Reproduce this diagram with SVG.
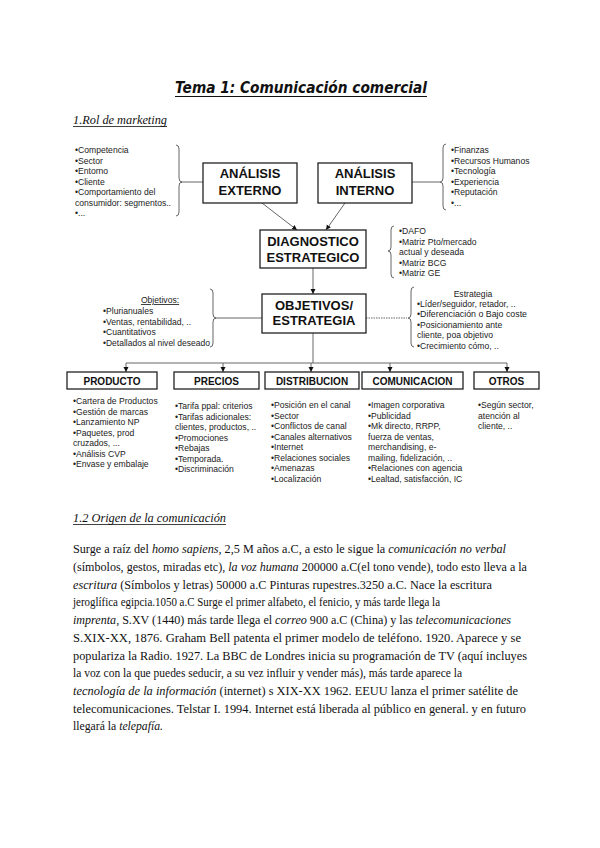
<svg xmlns="http://www.w3.org/2000/svg" width="600" height="848" viewBox="0 0 600 848">
<defs>
<marker id="arr" markerWidth="6" markerHeight="6" refX="5" refY="3" orient="auto" markerUnits="userSpaceOnUse">
<path d="M0,0.5 L5,3 L0,5.5 z" fill="#111"/>
</marker>
<style>
.box{fill:#fff;stroke:#222;stroke-width:1.3}
.bt{font-family:"Liberation Sans",Arial,sans-serif;font-weight:bold;font-size:13px;fill:#111;text-anchor:middle}
.bs{font-family:"Liberation Sans",Arial,sans-serif;font-weight:bold;font-size:10px;fill:#111;text-anchor:middle}
.li{font-family:"Liberation Sans",Arial,sans-serif;font-size:8.6px;fill:#222}
.con{stroke:#666;stroke-width:1;fill:none}
.br{stroke:#555;stroke-width:0.9;fill:none}
.p{font-family:"Liberation Serif","Times New Roman",serif;font-size:12px;fill:#111}
.it{font-style:italic}
</style>
</defs>
<rect width="600" height="848" fill="#fff"/>

<g id="title">
<text x="301" y="93" text-anchor="middle" font-family="'DejaVu Sans',sans-serif" font-weight="bold" font-style="italic" font-size="16" fill="#111" textLength="252" lengthAdjust="spacingAndGlyphs">Tema 1: Comunicación comercial</text>
<line x1="175" y1="96.5" x2="427" y2="96.5" stroke="#111" stroke-width="1"/>
</g>
<g id="h1">
<text x="73" y="124" class="p it" font-size="12" textLength="94" lengthAdjust="spacingAndGlyphs">1.Rol de marketing</text>
<line x1="73" y1="126.5" x2="167" y2="126.5" stroke="#111" stroke-width="0.8"/>
</g>

<g id="connectors">
<path class="con" d="M181,182 H203"/>
<path class="con" d="M412,182 H440"/>
<line class="con" x1="262" y1="203" x2="297" y2="230" marker-end="url(#arr)"/>
<line class="con" x1="345" y1="203" x2="326" y2="230" marker-end="url(#arr)"/>
<line class="con" x1="313" y1="268" x2="313" y2="294" marker-end="url(#arr)"/>
<path class="con" d="M215,318 H262"/>
<path class="con" d="M366,318 H407" stroke-dasharray="1.5,1" stroke="#999"/>
<line class="con" x1="313" y1="333" x2="313" y2="363"/>
<line class="con" x1="126" y1="363" x2="507" y2="363"/>
<line class="con" x1="126" y1="363" x2="126" y2="372" marker-end="url(#arr)"/>
<line class="con" x1="223" y1="363" x2="223" y2="372" marker-end="url(#arr)"/>
<line class="con" x1="311" y1="363" x2="311" y2="372" marker-end="url(#arr)"/>
<line class="con" x1="390" y1="363" x2="390" y2="372" marker-end="url(#arr)"/>
<line class="con" x1="507" y1="363" x2="507" y2="372" marker-end="url(#arr)"/>
</g>

<g id="braces">
<path class="br" d="M176,145 q3,0 3,4 v29 q0,4 3,4 q-3,0 -3,4 v26 q0,4 -3,4"/>
<path class="br" d="M446,144 q-3,0 -3,4 v30 q0,4 -3,4 q3,0 3,4 v20 q0,4 3,4"/>
<path class="br" d="M394,226 q-3,0 -3,4 v17 q0,4 -3,4 q3,0 3,4 v19 q0,4 3,4"/>
<path class="br" d="M210,289 q3,0 3,4 v21 q0,4 3,4 q-3,0 -3,4 v21 q0,4 -3,4"/>
<path class="br" d="M414,287 q-3,0 -3,4 v23 q0,4 -3,4 q3,0 3,4 v21 q0,4 3,4"/>
</g>

<g id="ext-list">
<text class="li" x="75" y="153">•Competencia</text>
<text class="li" x="75" y="163.5">•Sector</text>
<text class="li" x="75" y="174">•Entorno</text>
<text class="li" x="75" y="184.5">•Cliente</text>
<text class="li" x="75" y="195">•Comportamiento del</text>
<text class="li" x="75" y="205.5">consumidor: segmentos..</text>
<text class="li" x="75" y="216">•...</text>
</g>

<g id="analisis-externo">
<rect class="box" x="203" y="163" width="94" height="40"/>
<text class="bt" x="250" y="178">ANÁLISIS</text>
<text class="bt" x="250" y="195">EXTERNO</text>
</g>
<g id="analisis-interno">
<rect class="box" x="318" y="163" width="94" height="40"/>
<text class="bt" x="365" y="178">ANÁLISIS</text>
<text class="bt" x="365" y="195">INTERNO</text>
</g>

<g id="int-list">
<text class="li" x="451" y="153">•Finanzas</text>
<text class="li" x="451" y="163.5">•Recursos Humanos</text>
<text class="li" x="451" y="174">•Tecnología</text>
<text class="li" x="451" y="184.5">•Experiencia</text>
<text class="li" x="451" y="195">•Reputación</text>
<text class="li" x="451" y="205.5">•...</text>
</g>

<g id="diagnostico">
<rect class="box" x="260" y="230" width="106" height="38"/>
<text class="bt" x="313" y="246">DIAGNOSTICO</text>
<text class="bt" x="313" y="262">ESTRATEGICO</text>
</g>
<g id="diag-list">
<text class="li" x="399" y="234">•DAFO</text>
<text class="li" x="399" y="244.5">•Matriz Pto/mercado</text>
<text class="li" x="399" y="255">actual y deseada</text>
<text class="li" x="399" y="265.5">•Matriz BCG</text>
<text class="li" x="399" y="276">•Matriz GE</text>
</g>

<g id="objetivos">
<rect class="box" x="262" y="294" width="104" height="39"/>
<text class="bt" x="314" y="310">OBJETIVOS/</text>
<text class="bt" x="314" y="325">ESTRATEGIA</text>
</g>
<g id="obj-list">
<text class="li" x="160" y="303" text-anchor="middle" text-decoration="underline">Objetivos:</text>
<text class="li" x="103" y="314">•Plurianuales</text>
<text class="li" x="103" y="324.5">•Ventas, rentabilidad, ..</text>
<text class="li" x="103" y="335">•Cuantitativos</text>
<text class="li" x="103" y="345.5" textLength="107" lengthAdjust="spacingAndGlyphs">•Detallados al nivel deseado</text>
</g>
<g id="est-list">
<text class="li" x="473" y="297" text-anchor="middle">Estrategia</text>
<text class="li" x="417" y="306.5">•Líder/seguidor, retador, ..</text>
<text class="li" x="417" y="317" textLength="110" lengthAdjust="spacingAndGlyphs">•Diferenciación o Bajo coste</text>
<text class="li" x="417" y="327.5">•Posicionamiento ante</text>
<text class="li" x="417" y="338">cliente, poa objetivo</text>
<text class="li" x="417" y="348.5">•Crecimiento cómo, ..</text>
</g>

<g id="producto">
<rect class="box" x="67" y="372" width="90" height="17"/>
<text class="bs" x="112" y="384.5">PRODUCTO</text>
</g>
<g id="precios">
<rect class="box" x="174" y="372" width="85" height="17"/>
<text class="bs" x="216.5" y="384.5">PRECIOS</text>
</g>
<g id="distribucion">
<rect class="box" x="265" y="372" width="94" height="17"/>
<text class="bs" x="312" y="384.5">DISTRIBUCION</text>
</g>
<g id="comunicacion">
<rect class="box" x="362" y="372" width="101" height="17"/>
<text class="bs" x="412.5" y="384.5">COMUNICACION</text>
</g>
<g id="otros">
<rect class="box" x="474" y="372" width="65" height="17"/>
<text class="bs" x="506.5" y="384.5">OTROS</text>
</g>

<g id="producto-list">
<text class="li" x="73" y="404">•Cartera de Productos</text>
<text class="li" x="73" y="414.5">•Gestión de marcas</text>
<text class="li" x="73" y="425">•Lanzamiento NP</text>
<text class="li" x="73" y="435.5">•Paquetes, prod</text>
<text class="li" x="73" y="446">cruzados, ...</text>
<text class="li" x="73" y="456.5">•Análisis CVP</text>
<text class="li" x="73" y="467">•Envase y embalaje</text>
</g>
<g id="precios-list">
<text class="li" x="175" y="409">•Tarifa ppal: criterios</text>
<text class="li" x="175" y="419.5">•Tarifas adicionales:</text>
<text class="li" x="175" y="430">clientes, productos, ..</text>
<text class="li" x="175" y="440.5">•Promociones</text>
<text class="li" x="175" y="451">•Rebajas</text>
<text class="li" x="175" y="461.5">•Temporada.</text>
<text class="li" x="175" y="472">•Discriminación</text>
</g>
<g id="distribucion-list">
<text class="li" x="271" y="408">•Posición en el canal</text>
<text class="li" x="271" y="418.5">•Sector</text>
<text class="li" x="271" y="429">•Conflictos de canal</text>
<text class="li" x="271" y="439.5">•Canales alternativos</text>
<text class="li" x="271" y="450">•Internet</text>
<text class="li" x="271" y="460.5">•Relaciones sociales</text>
<text class="li" x="271" y="471">•Amenazas</text>
<text class="li" x="271" y="481.5">•Localización</text>
</g>
<g id="comunicacion-list">
<text class="li" x="368" y="408">•Imagen corporativa</text>
<text class="li" x="368" y="418.5">•Publicidad</text>
<text class="li" x="368" y="429">•Mk directo, RRPP,</text>
<text class="li" x="368" y="439.5">fuerza de ventas,</text>
<text class="li" x="368" y="450">merchandising, e-</text>
<text class="li" x="368" y="460.5">mailing, fidelización, ..</text>
<text class="li" x="368" y="471">•Relaciones con agencia</text>
<text class="li" x="368" y="481.5">•Lealtad, satisfacción, IC</text>
</g>
<g id="otros-list">
<text class="li" x="478" y="408">•Según sector,</text>
<text class="li" x="478" y="418.5">atención al</text>
<text class="li" x="478" y="429">cliente, ..</text>
</g>

<g id="h2">
<text x="73" y="522" class="p it" font-size="12" textLength="153" lengthAdjust="spacingAndGlyphs">1.2 Origen de la comunicación</text>
<line x1="73" y1="524.5" x2="226" y2="524.5" stroke="#111" stroke-width="0.8"/>
</g>

<g id="paragraph">
<text class="p" x="73" y="553" textLength="433" lengthAdjust="spacingAndGlyphs">Surge a raíz del <tspan class="it">homo sapiens,</tspan>  2,5 M años a.C, a esto le sigue la <tspan class="it">comunicación no verbal</tspan></text>
<text class="p" x="73" y="571" textLength="454" lengthAdjust="spacingAndGlyphs">(símbolos, gestos, miradas etc), <tspan class="it">la voz humana</tspan> 200000 a.C(el tono vende), todo esto lleva a la</text>
<text class="p" x="73" y="588.5" textLength="419" lengthAdjust="spacingAndGlyphs"><tspan class="it">escritura</tspan>  (Símbolos y letras) 50000 a.C Pinturas rupestres.3250 a.C. Nace la escritura</text>
<text class="p" x="73" y="606" textLength="367" lengthAdjust="spacingAndGlyphs">jeroglífica egipcia.1050 a.C Surge el primer alfabeto, el fenicio, y más tarde llega la</text>
<text class="p" x="73" y="624" textLength="438" lengthAdjust="spacingAndGlyphs"><tspan class="it">imprenta,</tspan> S.XV (1440) más tarde llega el <tspan class="it">correo</tspan> 900 a.C (China) y las <tspan class="it">telecomunicaciones</tspan></text>
<text class="p" x="73" y="642" textLength="448" lengthAdjust="spacingAndGlyphs">S.XIX-XX, 1876.  Graham Bell patenta el primer modelo de teléfono. 1920. Aparece y se</text>
<text class="p" x="73" y="659.5" textLength="454" lengthAdjust="spacingAndGlyphs">populariza la Radio. 1927. La BBC de Londres inicia su programación de TV (aquí incluyes</text>
<text class="p" x="73" y="677" textLength="389" lengthAdjust="spacingAndGlyphs">la voz con la que puedes seducir, a su vez influir y vender más), más tarde aparece la</text>
<text class="p" x="73" y="695" textLength="445" lengthAdjust="spacingAndGlyphs"><tspan class="it">tecnología de la información</tspan> (internet)  s XIX-XX 1962. EEUU lanza el primer satélite de</text>
<text class="p" x="73" y="712.5" textLength="453" lengthAdjust="spacingAndGlyphs">telecomunicaciones. Telstar I. 1994. Internet está liberada al público en general. y en futuro</text>
<text class="p" x="73" y="730" textLength="90" lengthAdjust="spacingAndGlyphs">llegará la <tspan class="it">telepafía.</tspan></text>
</g>
</svg>
